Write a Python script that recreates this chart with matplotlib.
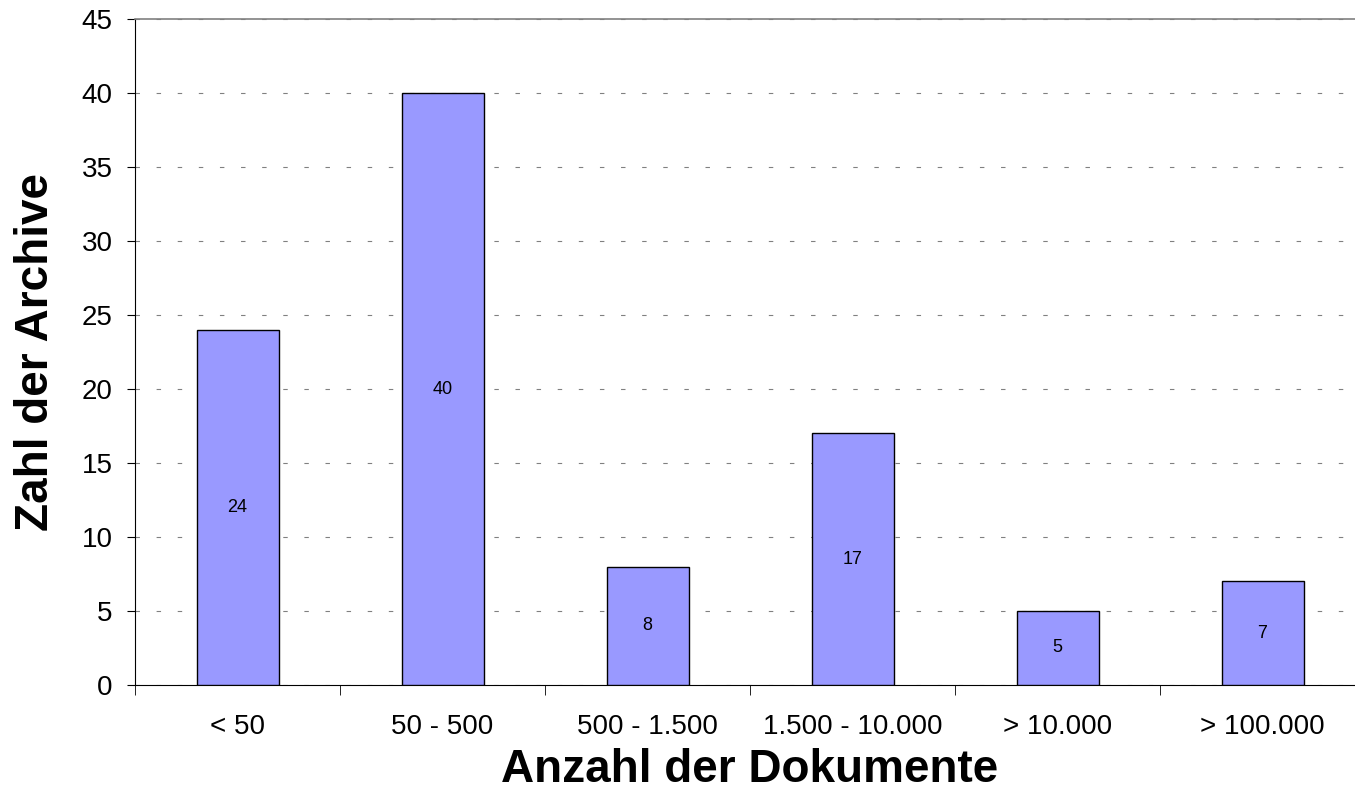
import matplotlib.pyplot as plt
import numpy as np

plt.rcParams['font.family'] = ['Liberation Sans', 'DejaVu Sans']

categories = ['< 50', '50 - 500', '500 - 1.500', '1.500 - 10.000', '> 10.000', '> 100.000']
archive_counts = [24, 40, 8, 17, 5, 7]
y_ticks = [0, 5, 10, 15, 20, 25, 30, 35, 40, 45]

fig = plt.figure(figsize=(13.55, 8.09), dpi=100)
ax = fig.add_axes([135 / 1355, 1 - 685 / 809, 1230 / 1355, 666 / 809])

x = np.arange(len(categories))
bars = ax.bar(x, archive_counts, width=0.4, color='#9999ff',
              edgecolor='black', linewidth=1.0, zorder=3)

for rect, val in zip(bars, archive_counts):
    ax.text(rect.get_x() + rect.get_width() / 2, val / 2, str(val),
            ha='center', va='center', fontsize=13, zorder=4)

ax.set_xlim(-0.5, len(categories) - 0.5)
ax.set_ylim(0, 45)
ax.set_yticks(y_ticks)
ax.yaxis.grid(True, linestyle=(0, (4, 15)), color='#808080', linewidth=0.8, zorder=0)

ax.set_xticks(x)
ax.set_xticklabels(categories, fontsize=20)
ax.set_xticks(np.arange(len(categories) + 1) - 0.5, minor=True)
ax.tick_params(axis='x', which='major', length=0, pad=21)
ax.tick_params(axis='x', which='minor', length=7, direction='out')
ax.tick_params(axis='y', length=6, direction='out', labelsize=20, pad=10)

ax.spines['right'].set_visible(False)
ax.spines['top'].set_color('#808080')
ax.spines['top'].set_linewidth(1.2)

ax.set_xlabel('Anzahl der Dokumente', fontsize=33, fontweight='bold', labelpad=6)
ax.set_ylabel('Zahl der Archive', fontsize=33, fontweight='bold', labelpad=17)

fig.savefig('out.png', dpi=100)
